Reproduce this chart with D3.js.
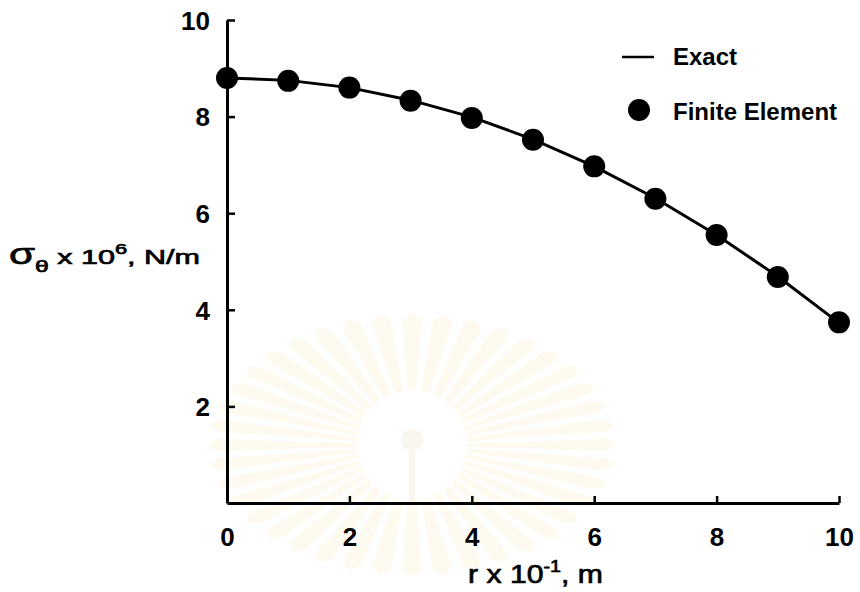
<!DOCTYPE html>
<html>
<head>
<meta charset="utf-8">
<script src="https://cdn.jsdelivr.net/npm/d3@7"></script>
<style>
  body { margin: 0; background: #fff; }
  svg { display: block; }
  text { font-family: "Liberation Sans", Arial, sans-serif; fill: #000; }
</style>
</head>
<body>
<div id="chart"></div>
<script>
(function() {
	var width = 860,
		height = 592;

	// radius r (x 10^-1 m) and hoop stress (x 10^6 N/m)
	var radius = [0, 1, 2, 3, 4, 5, 6, 7, 8, 9, 10];
	var exact = [8.80, 8.75, 8.60, 8.34, 7.99, 7.53, 6.97, 6.31, 5.55, 4.69, 3.73];
	var finiteElement = [8.80, 8.74, 8.60, 8.33, 7.97, 7.52, 6.97, 6.30, 5.55, 4.68, 3.74];
	var xTicks = [0, 2, 4, 6, 8, 10];
	var yTicks = [2, 4, 6, 8, 10];

	var margin = { left: 227, right: 21, top: 20, bottom: 89 };

	var svg = d3.select("#chart")
		.append("svg")
		.attr("width", width)
		.attr("height", height);

	// very faint watermark of the scanned page, behind everything
	var cx = 412, cy = 445, nRays = 40;
	var wm = svg.append("g");
	d3.range(nRays).forEach(function(i) {
		var a = i * 2 * Math.PI / nRays, w = 0.05;
		var p = [[0, 0],
			[Math.cos(a - w) * 195, Math.sin(a - w) * 125],
			[Math.cos(a) * 205, Math.sin(a) * 132],
			[Math.cos(a + w) * 195, Math.sin(a + w) * 125]];
		wm.append("path")
			.attr("d", "M" + p.map(function(q) { return [cx + q[0], cy + q[1]]; }).join("L") + "Z")
			.attr("fill", "#fefaef");
	});
	wm.append("circle").attr("cx", cx).attr("cy", cy).attr("r", 55).attr("fill", "#fff");
	wm.append("circle").attr("cx", cx).attr("cy", 440).attr("r", 11).attr("fill", "#faf6ef");
	wm.append("rect").attr("x", 409).attr("y", 451).attr("width", 6).attr("height", 50)
		.attr("fill", "#faf6ef");

	var x = d3.scaleLinear().domain([0, 10]).range([margin.left, width - margin.right]);
	var y = d3.scaleLinear().domain([0, 10]).range([height - margin.bottom, margin.top]);

	// axes: ticks point inward, like the original figure
	var xAxis = svg.append("g")
		.attr("transform", "translate(0," + y(0) + ")")
		.call(d3.axisBottom(x).tickValues(xTicks).tickSizeInner(-7).tickSizeOuter(0).tickPadding(25));

	var yAxis = svg.append("g")
		.attr("transform", "translate(" + x(0) + ",0)")
		.call(d3.axisLeft(y).tickValues(yTicks).tickSizeInner(-8).tickSizeOuter(0).tickPadding(17));

	[xAxis, yAxis].forEach(function(g) {
		g.select(".domain").attr("stroke", "#000").attr("stroke-width", 3);
		g.selectAll(".tick line").attr("stroke", "#000").attr("stroke-width", 2.5);
		g.selectAll(".tick text")
			.style("font-size", "26px")
			.style("font-weight", "bold")
			.style("font-family", "'Liberation Sans', Arial, sans-serif");
	});
	xAxis.selectAll(".tick text").attr("dy", "0.71em");
	yAxis.selectAll(".tick text").attr("dy", "0.36em");

	// exact solution line
	var pts = radius.map(function(r, i) { return [r, exact[i]]; });
	var line = d3.line()
		.x(function(d) { return x(d[0]); })
		.y(function(d) { return y(d[1]); });

	svg.append("path")
		.datum(pts)
		.attr("d", line)
		.attr("fill", "none")
		.attr("stroke", "#000")
		.attr("stroke-width", 3);

	// finite element results
	svg.selectAll(".fe")
		.data(radius.map(function(r, i) { return [r, finiteElement[i]]; }))
		.enter().append("circle")
		.attr("class", "fe")
		.attr("cx", function(d) { return x(d[0]); })
		.attr("cy", function(d) { return y(d[1]); })
		.attr("r", 11)
		.attr("fill", "#000");

	// legend
	var legend = svg.append("g").attr("transform", "translate(622,57)");
	legend.append("line")
		.attr("x1", 0).attr("x2", 32)
		.attr("y1", 0).attr("y2", 0)
		.attr("stroke", "#000").attr("stroke-width", 2.5);
	legend.append("text")
		.attr("x", 51).attr("y", 8)
		.style("font-size", "24px").style("font-weight", "bold")
		.text("Exact");
	legend.append("circle")
		.attr("cx", 17).attr("cy", 53).attr("r", 11)
		.attr("fill", "#000");
	legend.append("text")
		.attr("x", 51).attr("y", 63)
		.style("font-size", "24px").style("font-weight", "bold")
		.text("Finite Element");

	// axis titles (the scanned lettering is stretched sideways)
	var xt = svg.append("text")
		.attr("x", 468).attr("y", 583)
		.attr("textLength", 135)
		.attr("lengthAdjust", "spacingAndGlyphs")
		.attr("stroke", "#000").attr("stroke-width", 0.7)
		.style("font-size", "26px");
	xt.append("tspan").text("r x 10");
	xt.append("tspan").attr("dy", -11).style("font-size", "17px").text("-1");
	xt.append("tspan").attr("dy", 11).text(", m");

	var yt = svg.append("text")
		.attr("x", 9).attr("y", 264)
		.attr("textLength", 191)
		.attr("lengthAdjust", "spacingAndGlyphs")
		.attr("stroke", "#000").attr("stroke-width", 0.7)
		.style("font-size", "21px");
	yt.append("tspan").style("font-size", "29px").text("σ");
	yt.append("tspan").attr("dy", 8).style("font-size", "17px").text("θ");
	yt.append("tspan").attr("dy", -8).text(" x 10");
	yt.append("tspan").attr("dy", -10).style("font-size", "15px").text("6");
	yt.append("tspan").attr("dy", 10).text(", N/m");
}) ();
</script>
</body>
</html>
